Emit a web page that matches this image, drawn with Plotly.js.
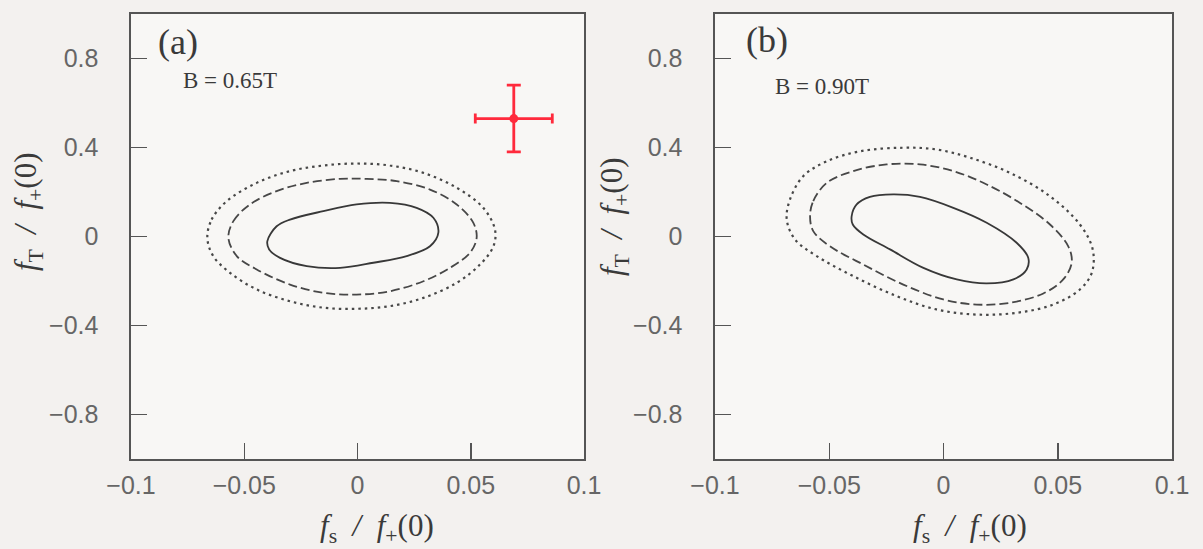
<!DOCTYPE html>
<html>
<head>
<meta charset="utf-8">
<script src="https://cdn.plot.ly/plotly-3.0.1.min.js"></script>
<style>html,body{margin:0;padding:0;background:#f3f1ef;}#chart{width:1203px;height:549px;}</style>
</head>
<body>
<div id="chart"></div>
<script>
// ---- Data ----
const xTickVals = [-0.1, -0.05, 0, 0.05, 0.1];
const xTickText = ['\u22120.1', '\u22120.05', '0', '0.05', '0.1'];
const yTickVals = [-0.8, -0.4, 0, 0.4, 0.8];
const yTickText = ['\u22120.8', '\u22120.4', '0', '0.4', '0.8'];

// Panel (a), B = 0.65T : contours
const aSolidX = [-0.0398, -0.0357, -0.0298, -0.0151, -0.0004, 0.0143, 0.0261, 0.0335, 0.0357, 0.032, 0.0217, 0.007, -0.0077, -0.0224, -0.0342, -0.039];
const aSolidY = [-0.021, 0.046, 0.076, 0.114, 0.144, 0.151, 0.129, 0.084, 0.017, -0.044, -0.088, -0.118, -0.141, -0.133, -0.096, -0.058];
const aDashX = [-0.057, -0.0548, -0.0475, -0.0357, -0.0224, -0.0077, 0.004, 0.0173, 0.032, 0.0438, 0.0511, 0.0526, 0.0497, 0.0408, 0.0291, 0.0143, -0.0004, -0.0151, -0.0298, -0.0445, -0.0533];
const aDashY = [-0.006, 0.069, 0.144, 0.204, 0.241, 0.259, 0.259, 0.249, 0.211, 0.144, 0.062, -0.006, -0.073, -0.141, -0.201, -0.246, -0.261, -0.253, -0.216, -0.148, -0.088];
const aDotX = [-0.0663, -0.0644, -0.0577, -0.0445, -0.0298, -0.0151, -0.0004, 0.0143, 0.0291, 0.0438, 0.0555, 0.0607, 0.06, 0.0541, 0.0438, 0.0291, 0.0143, -0.0004, -0.0151, -0.0298, -0.0445, -0.0563, -0.0637];
const aDotY = [-0.006, 0.076, 0.159, 0.241, 0.294, 0.319, 0.328, 0.319, 0.286, 0.219, 0.129, 0.031, -0.044, -0.126, -0.208, -0.276, -0.313, -0.325, -0.32, -0.291, -0.238, -0.163, -0.088];

// Panel (a): measured point with error bars
const ptX = [0.069];
const ptY = [0.53];
const ptErrX = [0.017];
const ptErrY = [0.15];

// Panel (b), B = 0.90T : contours
const bSolidX = [-0.0402, -0.038, -0.0322, -0.022, -0.0103, 0.0043, 0.0189, 0.032, 0.0371, 0.0364, 0.0306, 0.0189, 0.0058, -0.0088, -0.0234, -0.0351, -0.0397];
const bSolidY = [0.091, 0.144, 0.178, 0.189, 0.178, 0.129, 0.062, -0.028, -0.096, -0.148, -0.193, -0.211, -0.193, -0.141, -0.058, 0.009, 0.054];
const bDashX = [-0.0584, -0.057, -0.0511, -0.0395, -0.0249, -0.0103, 0.0043, 0.0189, 0.0335, 0.0466, 0.0546, 0.0561, 0.0524, 0.0437, 0.0291, 0.0145, -0.0001, -0.0176, -0.0351, -0.0497, -0.057];
const bDashY = [0.091, 0.159, 0.241, 0.294, 0.324, 0.324, 0.294, 0.234, 0.151, 0.054, -0.044, -0.118, -0.193, -0.256, -0.298, -0.306, -0.283, -0.216, -0.126, -0.044, 0.024];
const bDotX = [-0.0686, -0.0672, -0.0614, -0.0511, -0.0365, -0.0176, -0.003, 0.0116, 0.0291, 0.0466, 0.0597, 0.0653, 0.0649, 0.0597, 0.048, 0.032, 0.0145, -0.003, -0.0205, -0.0395, -0.0555, -0.065];
const bDotY = [0.076, 0.166, 0.271, 0.338, 0.383, 0.399, 0.391, 0.354, 0.286, 0.181, 0.054, -0.058, -0.163, -0.238, -0.306, -0.343, -0.351, -0.328, -0.268, -0.178, -0.088, -0.013];

const panelLabels = ['(a)', '(b)'];
const fieldLabels = ['B = 0.65T', 'B = 0.90T'];

// ---- helpers ----
function closed(arr) { return arr.concat([arr[0]]); }
function contour(xs, ys, xa, ya, style) {
  const line = {color: '#383838', width: 1.8, shape: 'spline', smoothing: 1};
  if (style === 'dash') { line.dash = '9px,4px'; line.color = '#474747'; line.width = 1.8; }
  if (style === 'dot') { line.dash = '2.5px,4px'; line.color = '#474747'; line.width = 2.2; }
  return {x: closed(xs), y: closed(ys), xaxis: xa, yaxis: ya, type: 'scatter', mode: 'lines',
          line: line, hoverinfo: 'skip', showlegend: false};
}

const traces = [
  contour(aSolidX, aSolidY, 'x', 'y', 'solid'),
  contour(aDashX, aDashY, 'x', 'y', 'dash'),
  contour(aDotX, aDotY, 'x', 'y', 'dot'),
  {x: ptX, y: ptY, xaxis: 'x', yaxis: 'y', type: 'scatter', mode: 'markers', showlegend: false,
   marker: {color: '#ff2a3c', size: 9},
   error_x: {type: 'data', array: ptErrX, visible: true, color: '#ff2a3c', thickness: 2.8, width: 5},
   error_y: {type: 'data', array: ptErrY, visible: true, color: '#ff2a3c', thickness: 2.8, width: 7}},
  contour(bSolidX, bSolidY, 'x2', 'y2', 'solid'),
  contour(bDashX, bDashY, 'x2', 'y2', 'dash'),
  contour(bDotX, bDotY, 'x2', 'y2', 'dot')
];

const W = 1203, H = 549;
function px(x) { return x / W; }
function py(y) { return 1 - y / H; }

const tickFont = {family: 'Liberation Sans, Arial, sans-serif', size: 25, color: '#666'};
function xAxis(domain, anchor) {
  return {domain: domain, anchor: anchor, range: [-0.1, 0.1], tickvals: xTickVals, ticktext: xTickText,
          ticks: 'inside', ticklen: 16, tickwidth: 1.5, tickcolor: '#555',
          showline: true, mirror: true, linecolor: '#555', linewidth: 1.6,
          showgrid: false, zeroline: false, tickfont: tickFont, ticklabelstandoff: 3, fixedrange: true};
}
function yAxis(anchor) {
  return {domain: [py(459), py(14)], anchor: anchor, range: [-1, 1], tickvals: yTickVals, ticktext: yTickText,
          ticks: 'inside', ticklen: 16, tickwidth: 1.5, tickcolor: '#555',
          showline: true, mirror: true, linecolor: '#555', linewidth: 1.6,
          showgrid: false, zeroline: false, tickfont: tickFont, ticklabelstandoff: 26, fixedrange: true};
}

const serif = 'Liberation Serif, Times New Roman, serif';
const xTitle = '<i>f</i><sub>s</sub>  <i>/</i>  <i>f</i><sub>+</sub>(0)';
const yTitle = '<i>f</i><sub>T</sub>  <i>/</i>  <i>f</i><sub>+</sub>(0)';

function ann(text, x, y, size, extra) {
  return Object.assign({text: text, x: px(x), y: py(y), xref: 'paper', yref: 'paper', showarrow: false,
    xanchor: 'center', yanchor: 'middle', font: {family: serif, size: size, color: '#3a3a3a'}}, extra || {});
}

const annotations = [
  ann(panelLabels[0], 178, 42, 36),
  ann(panelLabels[1], 767, 40, 36),
  ann(fieldLabels[0], 230, 81, 23),
  ann(fieldLabels[1], 822, 87, 23),
  ann(xTitle, 377, 528, 31),
  ann(xTitle, 970, 528, 31),
  ann(yTitle, 28, 212, 31, {textangle: -90}),
  ann(yTitle, 614, 217, 31, {textangle: -90})
];

const layout = {
  width: W, height: H,
  margin: {l: 0, r: 0, t: 0, b: 0},
  paper_bgcolor: '#f3f1ef',
  plot_bgcolor: '#f8f7f5',
  showlegend: false,
  xaxis: xAxis([px(131), px(584)], 'y'),
  yaxis: yAxis('x'),
  xaxis2: xAxis([px(715), px(1172)], 'y2'),
  yaxis2: yAxis('x2'),
  annotations: annotations
};

Plotly.newPlot('chart', traces, layout, {displayModeBar: false, staticPlot: true});
</script>
</body>
</html>
